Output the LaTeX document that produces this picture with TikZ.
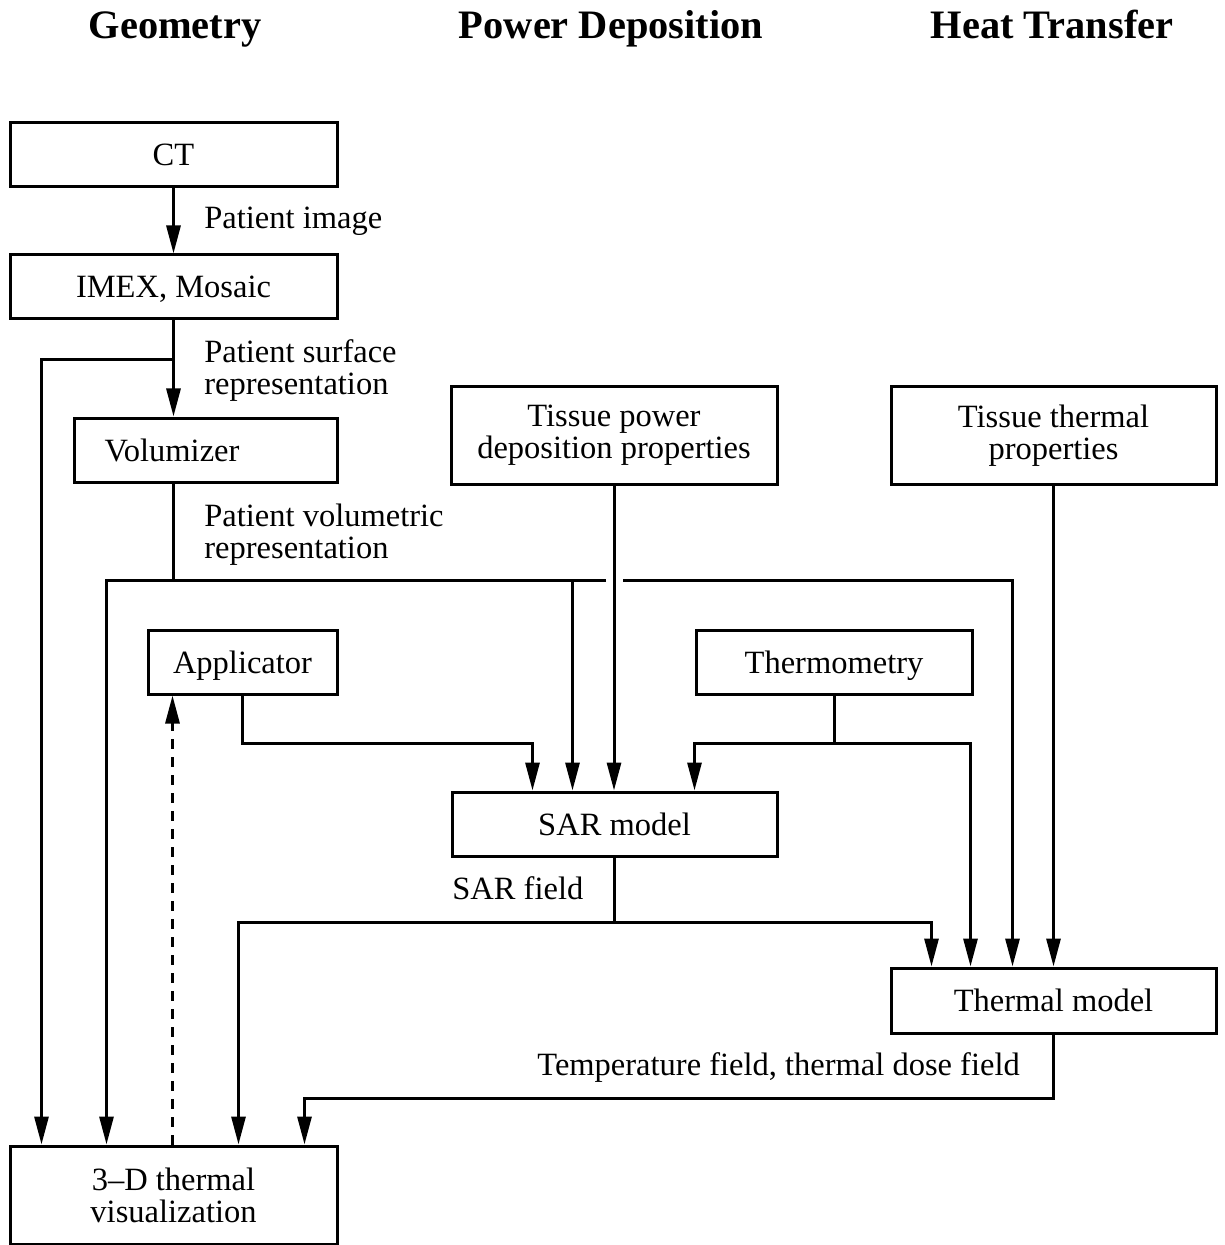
\documentclass[tikz,border=0pt]{standalone}
\usepackage{fontspec}
\setmainfont{Liberation Serif}
\usetikzlibrary{arrows.meta,calc}
\begin{document}
\begin{tikzpicture}[x=0.5pt,y=-0.5pt,
  every node/.style={font=\fontsize{16.25}{16}\selectfont},
  line/.style={line width=1.5pt},
  arr/.style={line width=1.5pt,-{Triangle[length=14pt,width=7pt]}},
  frame/.style={draw,line width=1.5pt,inner sep=0pt,minimum height=32pt},
  box/.style={frame,text height=13.5pt,text depth=2.5pt},
  tallbox/.style={frame,minimum height=49pt,align=center},
  word/.style={inner sep=0pt,text height=13.5pt,text depth=2.5pt},
  lbl/.style={inner sep=0pt,anchor=west,align=left},
  lblb/.style={inner sep=0pt,anchor=base west},
  head/.style={inner sep=0pt,anchor=base,font=\fontsize{20.2}{22}\selectfont\bfseries}]
\useasboundingbox (0,0) rectangle (1224,1245);

% column headings
\node[head] (hgeo) at (175,39) {Geometry};
\node[head] (hpow) at (611,39) {Power Deposition};
\node[head] (hheat) at (1052,39) {Heat Transfer};

% blocks
\node[box,minimum width=163.5pt] (ct) at (173.5,155) {CT};
\node[box,minimum width=163.5pt] (imex) at (173.5,287) {IMEX, Mosaic};
\node[frame,minimum width=131.5pt] (vol) at (205.5,450) {};
\node[word] (voltxt) at (172,450) {Volumizer};
\node[tallbox,minimum width=163pt] (tpd) at (614,435.5) {Tissue power\\deposition properties};
\node[tallbox,minimum width=162.5pt] (ttp) at (1053.5,435.5) {Tissue thermal\\properties};
\node[box,minimum width=94.5pt] (app) at (242.5,662) {Applicator};
\node[box,minimum width=138pt] (thm) at (834,662) {Thermometry};
\node[box,minimum width=162.5pt] (sar) at (614.5,824) {SAR model};
\node[box,minimum width=162.5pt,minimum height=32.5pt] (therm) at (1053.5,1000.5) {Thermal model};
\node[tallbox,minimum width=163.5pt] (vis) at (173.5,1195) {3–D thermal\\visualization};

% junction points
\coordinate (surf) at (173.5,360);
\coordinate (volj) at (173.5,580);
\coordinate (gapL) at (606,580);
\coordinate (gapR) at (623,580);
\coordinate (appj) at (0,743);
\coordinate (sarj) at (0,922);
\coordinate (thj) at (0,1098);

% geometry chain
\draw[arr] (ct.south) -- (imex.north);
\node[lblb] (limg) at (204,229) {Patient image};
\draw[arr] (imex.south) -- (imex.south |- vol.north);
\node[lbl] (lsurf) at (204,371) {Patient surface\\representation};
\draw[arr] (surf) -| ($(vis.north west)+(33,0)$);

% volumetric representation bus
\draw[line] (vol.south -| volj) -- (volj);
\node[lbl] (lvol) at (204,535) {Patient volumetric\\representation};
\draw[arr] (gapL) -| ($(vis.north west)+(98,0)$);
\draw[arr] (volj -| sar.north west) ++(122,0) coordinate (sarb) -- (sarb |- sar.north);
\draw[arr] (gapR) -| ($(therm.north west)+(123,0)$);

% property inputs
\draw[arr] (tpd.south) -- (tpd.south |- sar.north);
\draw[arr] (ttp.south) -- (ttp.south |- therm.north);

% applicator and thermometry
\draw[arr] (app.south) -- (app.south |- appj) -| ($(sar.north west)+(82,0)$);
\draw[line] (thm.south) -- (thm.south |- appj) coordinate (thmj);
\draw[arr] (thmj) -| ($(sar.north west)+(244,0)$);
\draw[arr] (thmj) -| ($(therm.north west)+(81,0)$);

% SAR field
\draw[line] (sar.south) -- (sar.south |- sarj) coordinate (sarf);
\node[lblb] (lsar) at (452,899) {SAR field};
\draw[arr] (sarf) -| ($(vis.north west)+(230,0)$);
\draw[arr] (sarf) -| ($(therm.north west)+(42,0)$);

% temperature field
\draw[arr] (therm.south) -- (therm.south |- thj) -| ($(vis.north west)+(296,0)$);
\node[lblb] (ltemp) at (537,1075) {Temperature field, thermal dose field};

% feedback to applicator
\draw[line,dash pattern=on 5pt off 4pt,-{Triangle[length=14pt,width=7pt]}]
  ($(vis.north west)+(164,0)$) -- ($(app.south west)+(26,0)$);
\end{tikzpicture}
\end{document}
